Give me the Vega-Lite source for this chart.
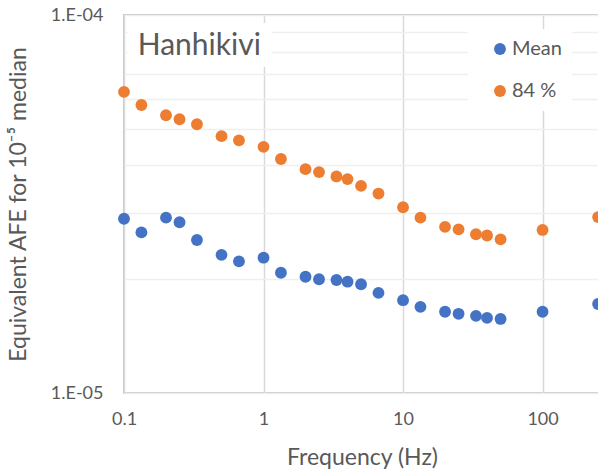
{
  "$schema": "https://vega.github.io/schema/vega-lite/v6.json",
  "autosize": {"type": "none"},
  "padding": {"left": 124, "top": 15, "right": 0, "bottom": 79},
  "width": 476,
  "height": 378,
  "background": "white",
  "config": {
    "font": "Lato",
    "view": {"stroke": "#c8c8c8", "strokeWidth": 2},
    "axis": {
      "labelFont": "Lato",
      "titleFont": "Lato",
      "labelColor": "#595959",
      "titleColor": "#595959",
      "titleFontWeight": "normal",
      "labelFontSize": 18,
      "titleFontSize": 23,
      "ticks": false,
      "domain": false,
      "labelFlush": false
    },
    "legend": {
      "orient": "none",
      "legendX": 344,
      "legendY": 14,
      "fillColor": "white",
      "padding": 10,
      "symbolOffset": 12,
      "labelOffset": 2,
      "symbolType": "circle",
      "symbolSize": 140,
      "symbolStrokeWidth": 0,
      "labelFont": "Lato",
      "labelFontSize": 20,
      "labelColor": "#595959",
      "rowPadding": 22
    }
  },
  "datasets": {
    "afe": [
      {"f": 0.1, "Mean": 2.89e-5, "84 %": 6.26e-5},
      {"f": 0.1333, "Mean": 2.66e-5, "84 %": 5.78e-5},
      {"f": 0.2, "Mean": 2.91e-5, "84 %": 5.43e-5},
      {"f": 0.25, "Mean": 2.83e-5, "84 %": 5.30e-5},
      {"f": 0.3333, "Mean": 2.54e-5, "84 %": 5.14e-5},
      {"f": 0.5, "Mean": 2.32e-5, "84 %": 4.78e-5},
      {"f": 0.6667, "Mean": 2.23e-5, "84 %": 4.66e-5},
      {"f": 1, "Mean": 2.28e-5, "84 %": 4.48e-5},
      {"f": 1.333, "Mean": 2.08e-5, "84 %": 4.16e-5},
      {"f": 2, "Mean": 2.03e-5, "84 %": 3.91e-5},
      {"f": 2.5, "Mean": 2.00e-5, "84 %": 3.84e-5},
      {"f": 3.333, "Mean": 1.99e-5, "84 %": 3.74e-5},
      {"f": 4, "Mean": 1.97e-5, "84 %": 3.68e-5},
      {"f": 5, "Mean": 1.94e-5, "84 %": 3.53e-5},
      {"f": 6.667, "Mean": 1.84e-5, "84 %": 3.37e-5},
      {"f": 10, "Mean": 1.76e-5, "84 %": 3.10e-5},
      {"f": 13.33, "Mean": 1.69e-5, "84 %": 2.91e-5},
      {"f": 20, "Mean": 1.64e-5, "84 %": 2.75e-5},
      {"f": 25, "Mean": 1.62e-5, "84 %": 2.71e-5},
      {"f": 33.33, "Mean": 1.60e-5, "84 %": 2.63e-5},
      {"f": 40, "Mean": 1.58e-5, "84 %": 2.61e-5},
      {"f": 50, "Mean": 1.57e-5, "84 %": 2.55e-5},
      {"f": 100, "Mean": 1.64e-5, "84 %": 2.70e-5},
      {"f": 250, "Mean": 1.72e-5, "84 %": 2.92e-5}
    ],
    "site": [{"name": "Hanhikivi"}]
  },
  "layer": [
    {
      "data": {"name": "afe"},
      "transform": [{"fold": ["Mean", "84 %"], "as": ["series", "afe"]}],
      "mark": {"type": "point", "filled": true, "opacity": 1, "size": 140},
      "encoding": {
        "x": {
          "field": "f",
          "type": "quantitative",
          "scale": {"type": "log", "domain": [0.1, 258], "nice": false},
          "axis": {
            "title": "Frequency (Hz)",
            "values": [0.1, 1, 10, 100],
            "format": "~g",
            "labelPadding": 17,
            "titlePadding": 18,
            "grid": true,
            "gridColor": "#d9d9d9",
            "gridWidth": 1.5
          }
        },
        "y": {
          "field": "afe",
          "type": "quantitative",
          "scale": {"type": "log", "domain": [1e-5, 1e-4], "nice": false},
          "axis": {
            "title": "Equivalent AFE for 10⁻⁵ median",
            "values": [1e-5, 2e-5, 3e-5, 4e-5, 5e-5, 6e-5, 7e-5, 8e-5, 9e-5, 1e-4],
            "labelExpr": "datum.value < 1.5e-5 ? '1.E-05' : (datum.value > 9.5e-5 ? '1.E-04' : '')",
            "labelPadding": 21,
            "titlePadding": 20,
            "grid": true,
            "gridColor": "#efefef",
            "gridWidth": 1.5
          }
        },
        "color": {
          "field": "series",
          "type": "nominal",
          "scale": {"domain": ["Mean", "84 %"], "range": ["#4472C4", "#ED7D31"]},
          "legend": {"title": null}
        }
      }
    },
    {
      "data": {"name": "site"},
      "mark": {"type": "rect", "fill": "white", "stroke": null},
      "encoding": {
        "x": {"datum": 0.1063},
        "x2": {"datum": 1.145},
        "y": {"datum": 9.52e-5},
        "y2": {"datum": 7.29e-5}
      }
    },
    {
      "data": {"name": "site"},
      "mark": {"type": "text", "align": "left", "baseline": "alphabetic", "font": "Lato", "fontSize": 30, "color": "#595959"},
      "encoding": {
        "x": {"datum": 0.1254},
        "y": {"datum": 7.84e-5},
        "text": {"field": "name"}
      }
    }
  ]
}
